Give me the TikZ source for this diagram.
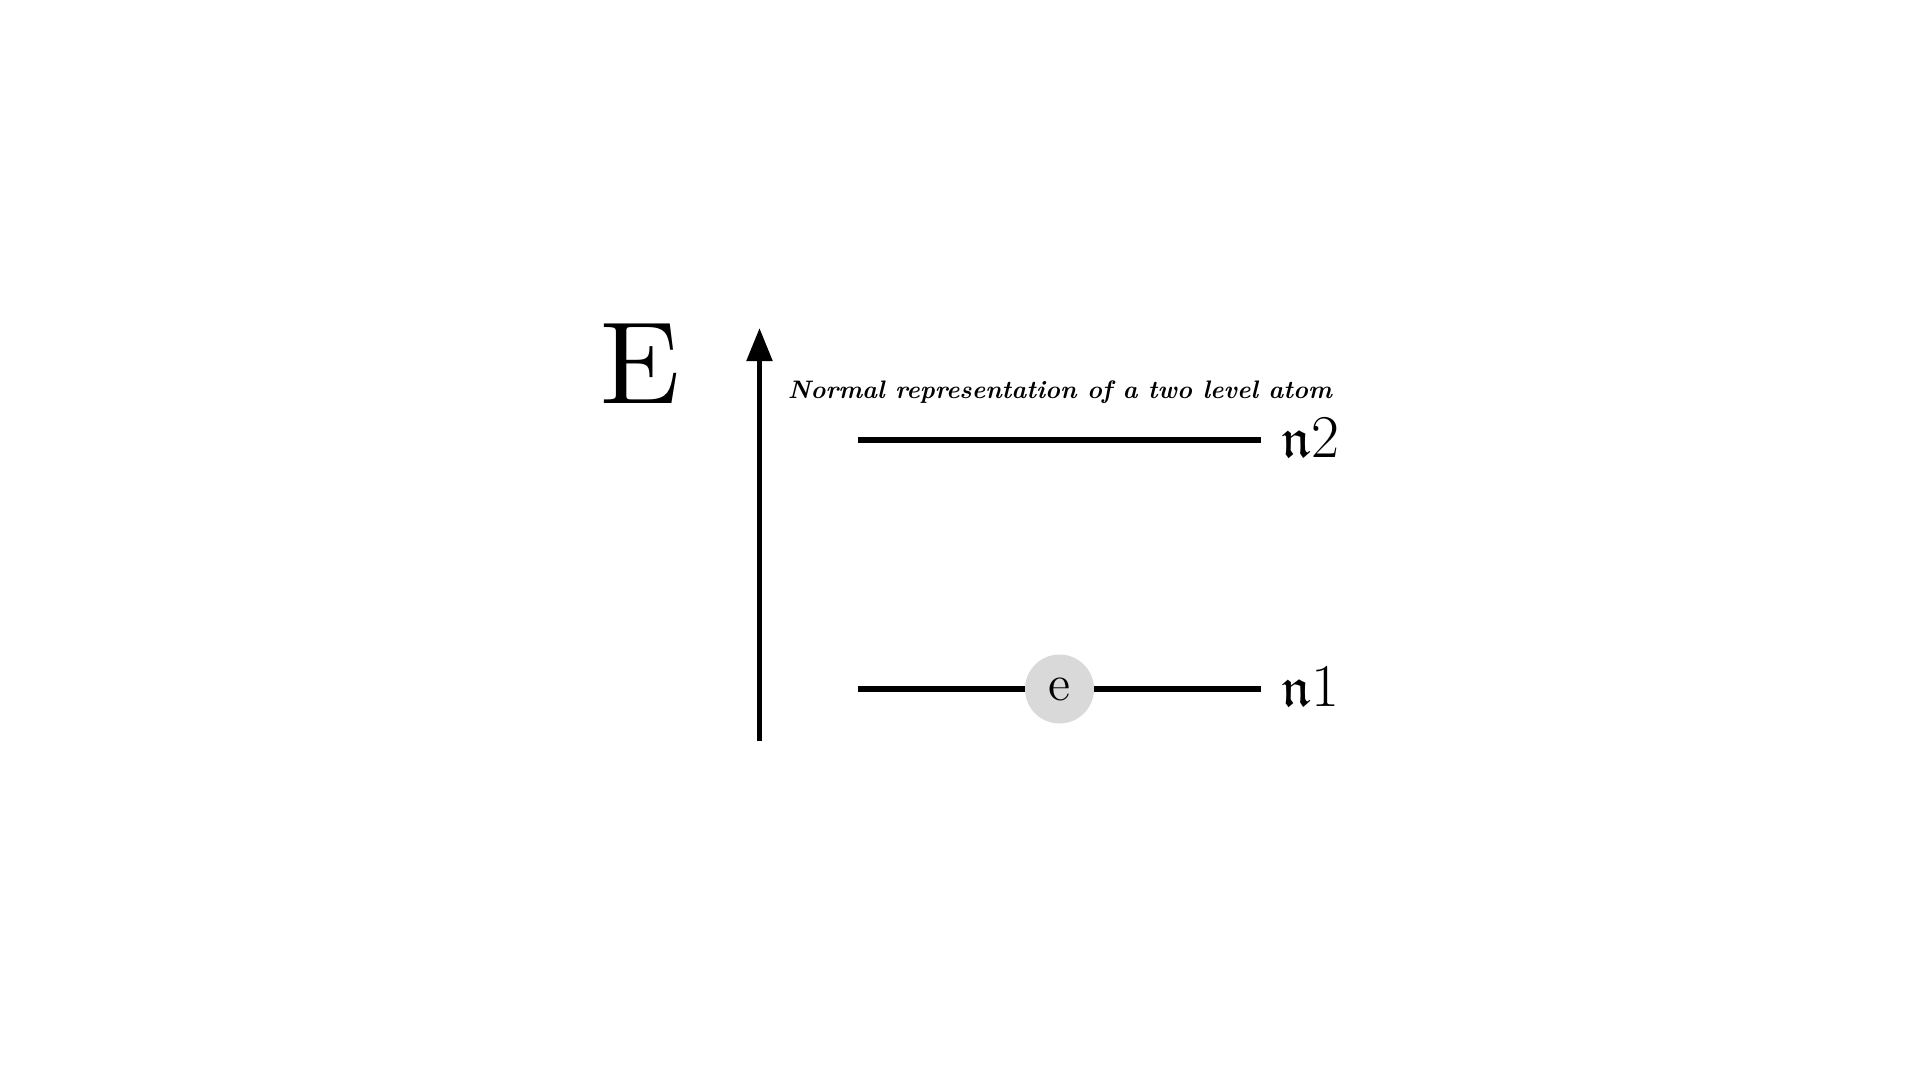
\documentclass[tikz,border=0pt]{standalone}
\usepackage{amssymb}
\usepackage{graphicx}
\usetikzlibrary{arrows.meta}
\begin{document}
\begin{tikzpicture}[x=0.1mm,y=-0.1mm,
  level/.style={line width=1.5pt},
  axisline/.style={line width=1.5pt,-{Triangle[length=3.3mm,width=2.5mm]}},
  lbl/.style={inner sep=0pt,anchor=west,font=\fontsize{16}{19}\selectfont},
  electron/.style={circle,fill=black!15,minimum size=6.9mm,inner sep=0pt,font=\fontsize{14.4}{17}\selectfont}]
\useasboundingbox (0,0) rectangle (1920,1080);
\node[inner sep=0pt] (E) at (640,364) {\scalebox{3.33}{\fontsize{10}{12}\selectfont E}};
\coordinate (abot) at (759.5,741);
\coordinate (atop) at (759.5,328);
\draw[axisline] (abot) -- (atop);
\coordinate (l2a) at (858,440);
\coordinate (l2b) at (1261,440);
\coordinate (l1a) at (858,689);
\coordinate (l1b) at (1261,689);
\draw[level] (l2a) -- (l2b);
\draw[level] (l1a) -- (l1b);
\node[electron] (e) at (1059.5,689) {e};
\node[lbl] (n2) at (1281,438) {$\mathfrak{n}2$};
\node[lbl] (n1) at (1281,687) {$\mathfrak{n}1$};
\node[inner sep=0pt,anchor=base,font=\fontsize{7.2}{9}\selectfont\bfseries\itshape] (title) at (1060,398) {Normal representation of a two level atom};
\end{tikzpicture}
\end{document}
